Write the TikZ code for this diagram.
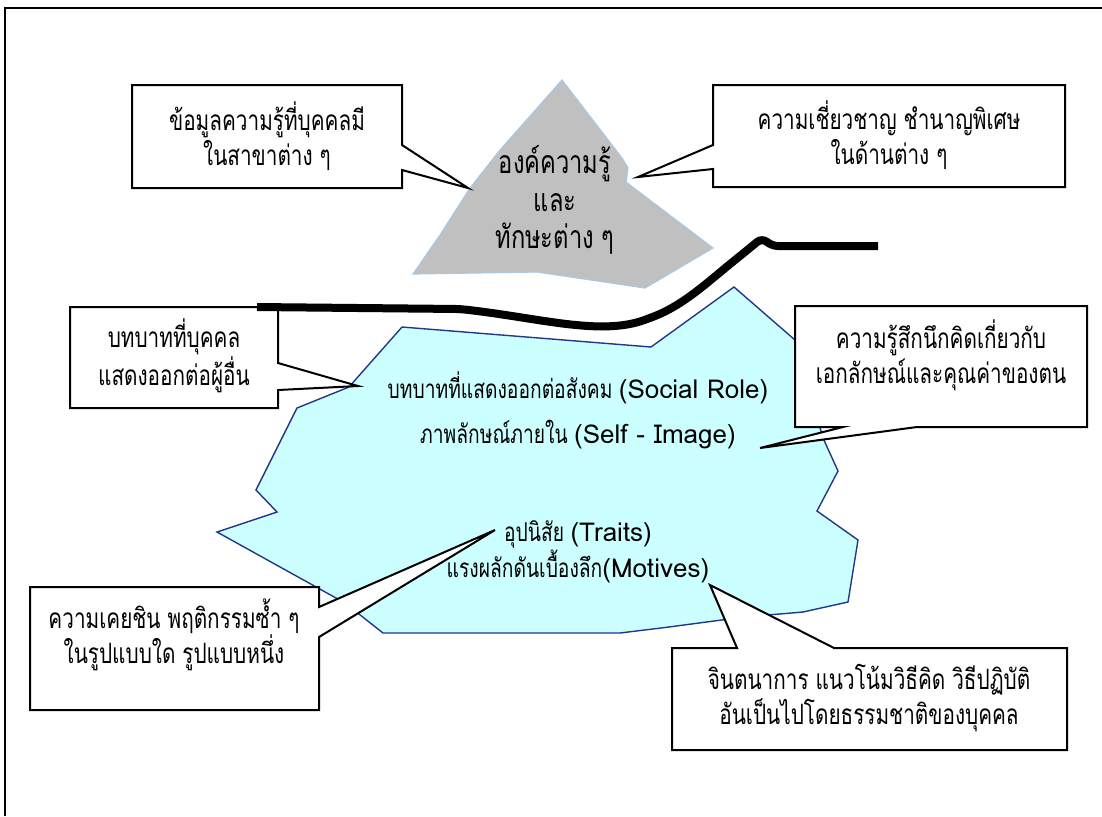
\documentclass[tikz,border=0pt]{standalone}
\usepackage{fontspec}
\newfontfamily\thai[Script=Thai, FakeStretch=0.74]{Loma}
\newfontfamily\lat{Loma}
\definecolor{mtn}{RGB}{192,192,192}
\definecolor{mtnedge}{RGB}{170,200,228}
\definecolor{sea}{RGB}{204,255,255}
\definecolor{seaedge}{RGB}{35,55,140}
\tikzset{
  callout/.style={draw=black, fill=white, line width=1pt, line join=miter},
  txt/.style={align=center, inner sep=0pt, font=\thai\fontsize{14}{17.3}\selectfont},
}
\begin{document}
\begin{tikzpicture}[x=0.5pt,y=-0.5pt]
\useasboundingbox (0,0) rectangle (1102,816);
\fill[white] (0,0) rectangle (1102,816);
% frame (cropped)
\draw[line width=0.6pt] (5,816) -- (5,8) -- (1102,8);

% mountain
\filldraw[fill=mtn, draw=mtnedge, line width=0.6pt]
  (562,80) -- (622,158) -- (628,168) -- (626,182) -- (713,248) -- (645,288)
  -- (537,272) -- (413,274) -- (440,235) -- (470,188) -- (500,150) -- cycle;

% underwater part
\filldraw[fill=sea, draw=seaedge, line width=0.7pt]
  (402,327) -- (651,347) -- (734,287) -- (795,340) -- (823,438) -- (838,471)
  -- (817,511) -- (858,540) -- (848,602) -- (803,612) -- (744,617) -- (669,627)
  -- (620,633) -- (383,633) -- (345,603) -- (217,532) -- (277,512) -- (256,490)
  -- (297,408) -- (349,387) -- cycle;

% callouts
\draw[callout] (132,85) -- (402,85) -- (402,145) -- (468,188) -- (402,170) -- (402,188) -- (132,188) -- cycle;
\draw[callout] (713,85) -- (1065,85) -- (1065,187) -- (713,187) -- (713,169) -- (638,177) -- (713,145) -- cycle;
\draw[callout] (70,307) -- (278,307) -- (278,363) -- (358,386) -- (278,390) -- (278,408) -- (70,408) -- cycle;
\draw[callout] (795,306) -- (1087,306) -- (1087,427) -- (917,427) -- (760,448) -- (843,427) -- (795,427) -- cycle;
\draw[callout] (30,587) -- (319,587) -- (319,607) -- (495,530) -- (319,637) -- (319,710) -- (30,710) -- cycle;
\draw[callout] (672,648) -- (737,648) -- (710,585) -- (834,648) -- (1067,648) -- (1067,750) -- (672,750) -- cycle;

% waterline
\draw[line width=4pt, rounded corners=3pt] (257,307) -- (460,309)
  .. controls (540,318) and (600,336) .. (650,318)
  .. controls (685,304) and (710,280) .. (740,256)
  -- (762,238) -- (772,246) -- (878,246);

% texts
\node[txt] (t1) at (267,136) {ข้อมูลความรู้ที่บุคคลมี\\ในสาขาต่าง ๆ};
\node[txt] (t2) at (889,135) {ความเชี่ยวชาญ ชำนาญพิเศษ\\ในด้านต่าง ๆ};
\node[txt, font=\thai\fontsize{16}{18.7}\selectfont] (tm) at (555,200) {องค์ความรู้\\และ\\ทักษะต่าง ๆ};
\node[txt] (t3) at (174,356) {บทบาทที่บุคคล\\แสดงออกต่อผู้อื่น};
\node[txt] (t4) at (941,355) {ความรู้สึกนึกคิดเกี่ยวกับ\\เอกลักษณ์และคุณค่าของตน};
\node[txt] (t5) at (174,635) {ความเคยชิน พฤติกรรมซ้ำ ๆ\\ในรูปแบบใด รูปแบบหนึ่ง};
\node[txt] (t6) at (869,698) {จินตนาการ แนวโน้มวิธีคิด วิธีปฏิบัติ\\อันเป็นไปโดยธรรมชาติของบุคคล};
\node[txt, font=\thai\fontsize{13}{22.5}\selectfont] (b1) at (578,410) {บทบาทที่แสดงออกต่อสังคม {\lat(Social Role)}\\ภาพลักษณ์ภายใน {\lat(Self - Image)}};
\node[txt, font=\thai\fontsize{13}{16}\selectfont] (b2) at (578,552) {อุปนิสัย {\lat(Traits)}\\แรงผลักดันเบื้องลึก{\lat(Motives)}};
\end{tikzpicture}
\end{document}
